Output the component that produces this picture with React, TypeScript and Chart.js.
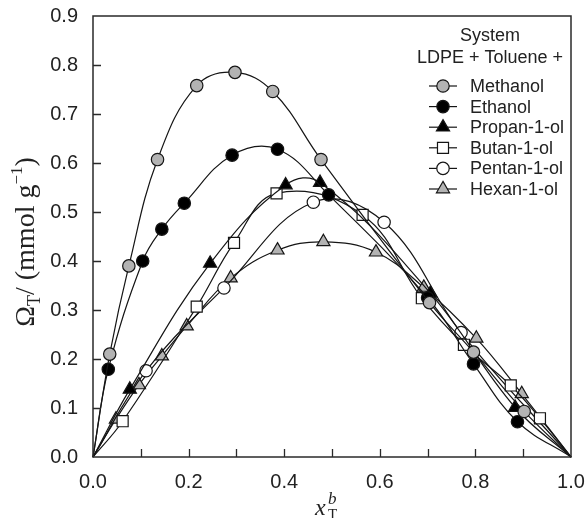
import React, { useEffect, useRef } from 'react';
import { Chart, registerables } from 'chart.js';

Chart.register(...registerables);

// ---------- data ----------
const xTickValues = [0, 0.2, 0.4, 0.6, 0.8, 1.0];
const yTickValues = [0, 0.1, 0.2, 0.3, 0.4, 0.5, 0.6, 0.7, 0.8, 0.9];
const minorXTicks = [0.1, 0.2, 0.3, 0.4, 0.5, 0.6, 0.7, 0.8, 0.9];
const minorYTicks = [0.1, 0.2, 0.3, 0.4, 0.5, 0.6, 0.7, 0.8];

const legendTitle1 = 'System';
const legendTitle2 = 'LDPE + Toluene +';
const seriesNames = ['Methanol', 'Ethanol', 'Propan-1-ol', 'Butan-1-ol', 'Pentan-1-ol', 'Hexan-1-ol'];

const methanolX = [0, 0.035, 0.075, 0.135, 0.217, 0.297, 0.376, 0.477, 0.704, 0.796, 0.902, 1];
const methanolY = [0, 0.21, 0.39, 0.607, 0.758, 0.785, 0.746, 0.607, 0.315, 0.214, 0.093, 0];

const ethanolX = [0, 0.032, 0.104, 0.144, 0.191, 0.291, 0.386, 0.493, 0.7, 0.796, 0.888, 1];
const ethanolY = [0, 0.179, 0.4, 0.465, 0.518, 0.616, 0.628, 0.535, 0.325, 0.19, 0.072, 0];

const propanolX = [0, 0.077, 0.245, 0.403, 0.475, 0.706, 0.883, 1];
const propanolY = [0, 0.138, 0.395, 0.555, 0.56, 0.334, 0.101, 0];

const butanolX = [0, 0.062, 0.217, 0.295, 0.384, 0.564, 0.688, 0.776, 0.874, 0.935, 1];
const butanolY = [0, 0.073, 0.307, 0.437, 0.538, 0.494, 0.324, 0.229, 0.146, 0.079, 0];

const pentanolX = [0, 0.111, 0.274, 0.461, 0.609, 0.77, 1];
const pentanolY = [0, 0.176, 0.345, 0.52, 0.479, 0.254, 0];

const hexanolX = [0, 0.048, 0.096, 0.144, 0.196, 0.288, 0.386, 0.482, 0.592, 0.692, 0.802, 0.897, 1];
const hexanolY = [0, 0.077, 0.147, 0.206, 0.267, 0.365, 0.422, 0.439, 0.418, 0.346, 0.242, 0.129, 0];

// ---------- styles ----------
const GRAY = '#b3b3b3';
const BLACK = '#000000';
const WHITE = '#ffffff';
const EDGE = '#151515';

type Style = { shape: 'circle' | 'rect' | 'triangle'; fill: string; r: number };
const styles: Style[] = [
  { shape: 'circle', fill: GRAY, r: 6.2 },
  { shape: 'circle', fill: BLACK, r: 6.2 },
  { shape: 'triangle', fill: BLACK, r: 7.6 },
  { shape: 'rect', fill: WHITE, r: 7.8 },
  { shape: 'circle', fill: WHITE, r: 6.2 },
  { shape: 'triangle', fill: GRAY, r: 7.6 },
];

const seriesX = [methanolX, ethanolX, propanolX, butanolX, pentanolX, hexanolX];
const seriesY = [methanolY, ethanolY, propanolY, butanolY, pentanolY, hexanolY];

const SANS = '"Liberation Sans", Arial, Helvetica, sans-serif';
const SERIF = '"Liberation Serif", "Times New Roman", Times, serif';

function drawMarker(ctx: CanvasRenderingContext2D, s: Style, x: number, y: number) {
  ctx.beginPath();
  if (s.shape === 'circle') {
    ctx.arc(x, y, s.r, 0, Math.PI * 2);
  } else if (s.shape === 'rect') {
    const h = s.r * Math.SQRT1_2;
    ctx.rect(x - h, y - h, 2 * h, 2 * h);
  } else {
    let a = 0;
    ctx.moveTo(x + Math.sin(a) * s.r, y - Math.cos(a) * s.r);
    a += (2 * Math.PI) / 3;
    ctx.lineTo(x + Math.sin(a) * s.r, y - Math.cos(a) * s.r);
    a += (2 * Math.PI) / 3;
    ctx.lineTo(x + Math.sin(a) * s.r, y - Math.cos(a) * s.r);
    ctx.closePath();
  }
  ctx.fillStyle = s.fill;
  ctx.fill();
  ctx.lineWidth = 1.2;
  ctx.strokeStyle = EDGE;
  ctx.stroke();
}

const decorPlugin = {
  id: 'decor',
  afterDraw(chart: any) {
    const ctx: CanvasRenderingContext2D = chart.ctx;
    const { left, right, top, bottom } = chart.chartArea;
    const xs = chart.scales.x;
    const ys = chart.scales.y;
    ctx.save();

    // frame
    ctx.strokeStyle = '#2a2a2a';
    ctx.lineWidth = 1.5;
    ctx.strokeRect(left, top, right - left, bottom - top);

    // inward ticks
    ctx.beginPath();
    minorXTicks.forEach((v) => {
      const px = Math.round(xs.getPixelForValue(v)) + 0.5;
      ctx.moveTo(px, bottom);
      ctx.lineTo(px, bottom - 8);
    });
    minorYTicks.forEach((v) => {
      const py = Math.round(ys.getPixelForValue(v)) + 0.5;
      ctx.moveTo(left, py);
      ctx.lineTo(left + 8, py);
    });
    ctx.lineWidth = 1.3;
    ctx.stroke();

    // y axis title
    ctx.fillStyle = '#222';
    ctx.save();
    ctx.translate(34, 242);
    ctx.rotate(-Math.PI / 2);
    const segs = [
      { t: 'Ω', size: 28, dy: 0 },
      { t: 'T', size: 18, dy: 6 },
      { t: '/ (mmol g', size: 28, dy: 0 },
      { t: '−1', size: 17, dy: -12 },
      { t: ')', size: 28, dy: 0 },
    ];
    let total = 0;
    segs.forEach((s) => {
      ctx.font = `${s.size}px ${SERIF}`;
      total += ctx.measureText(s.t).width;
    });
    let cx = -total / 2;
    ctx.textAlign = 'left';
    ctx.textBaseline = 'alphabetic';
    segs.forEach((s) => {
      ctx.font = `${s.size}px ${SERIF}`;
      ctx.fillText(s.t, cx, s.dy);
      cx += ctx.measureText(s.t).width;
    });
    ctx.restore();

    // x axis title
    ctx.textAlign = 'left';
    ctx.textBaseline = 'alphabetic';
    ctx.font = `italic 24px ${SERIF}`;
    ctx.fillText('x', 315, 515);
    ctx.font = `italic 17px ${SERIF}`;
    ctx.fillText('b', 328, 504);
    ctx.font = `15px ${SERIF}`;
    ctx.fillText('T', 328, 519);

    // legend
    ctx.font = `18px ${SANS}`;
    ctx.textAlign = 'center';
    ctx.fillStyle = '#222';
    ctx.fillText(legendTitle1, 490, 41);
    ctx.fillText(legendTitle2, 490, 63);
    ctx.textAlign = 'left';
    ctx.textBaseline = 'middle';
    seriesNames.forEach((name, i) => {
      const y = 86 + i * 20.6;
      ctx.beginPath();
      ctx.moveTo(429, y);
      ctx.lineTo(457, y);
      ctx.strokeStyle = EDGE;
      ctx.lineWidth = 1.2;
      ctx.stroke();
      drawMarker(ctx, styles[i], 443, y);
      ctx.fillStyle = '#222';
      ctx.font = `18px ${SANS}`;
      ctx.fillText(name, 470, y + 1);
    });

    ctx.restore();
  },
};

export default function App() {
  const ref = useRef<HTMLCanvasElement | null>(null);

  useEffect(() => {
    if (!ref.current) return;
    Chart.defaults.font.family = SANS;
    Chart.defaults.color = '#222';

    const datasets = seriesNames.map((name, i) => {
      const xsArr = seriesX[i];
      const ysArr = seriesY[i];
      const last = xsArr.length - 1;
      const st = styles[i];
      return {
        label: name,
        data: xsArr.map((x, k) => ({ x, y: ysArr[k] })),
        showLine: true,
        tension: 0.4,
        borderColor: EDGE,
        borderWidth: 1.2,
        fill: false,
        pointStyle: st.shape,
        pointRadius: (c: any) => (c.dataIndex === 0 || c.dataIndex === last ? 0 : st.r),
        pointHoverRadius: (c: any) => (c.dataIndex === 0 || c.dataIndex === last ? 0 : st.r),
        pointBackgroundColor: st.fill,
        pointBorderColor: EDGE,
        pointBorderWidth: 1.2,
        clip: false as any,
      };
    });

    const chart = new Chart(ref.current, {
      type: 'scatter',
      data: { datasets: datasets as any },
      options: {
        animation: false,
        responsive: false,
        layout: { padding: { top: 16, right: 15, left: 0, bottom: 0 } },
        plugins: {
          legend: { display: false },
          tooltip: { enabled: false },
          title: { display: false },
        },
        scales: {
          x: {
            type: 'linear',
            min: 0,
            max: 1,
            afterBuildTicks: (s: any) => {
              s.ticks = xTickValues.map((v) => ({ value: v }));
            },
            ticks: {
              font: { size: 20 },
              color: '#222',
              padding: 13,
              maxRotation: 0,
              callback: (v: any) => Number(v).toFixed(1),
            },
            grid: { display: false, drawTicks: false },
            border: { display: false },
            afterFit: (s: any) => {
              s.height = 61;
              s.paddingLeft = 0;
              s.paddingRight = 0;
            },
          },
          y: {
            type: 'linear',
            min: 0,
            max: 0.9,
            afterBuildTicks: (s: any) => {
              s.ticks = yTickValues.map((v) => ({ value: v }));
            },
            ticks: {
              font: { size: 20 },
              color: '#222',
              padding: 15,
              callback: (v: any) => Number(v).toFixed(1),
            },
            grid: { display: false, drawTicks: false },
            border: { display: false },
            afterFit: (s: any) => {
              s.width = 93;
              s.paddingTop = 0;
              s.paddingBottom = 0;
            },
          },
        },
      },
      plugins: [decorPlugin],
    });

    return () => chart.destroy();
  }, []);

  return (
    <div style={{ position: 'fixed', left: 0, top: 0, width: 586, height: 518, background: '#fff' }}>
      <canvas ref={ref} width={586} height={518} style={{ display: 'block' }} />
    </div>
  );
}
